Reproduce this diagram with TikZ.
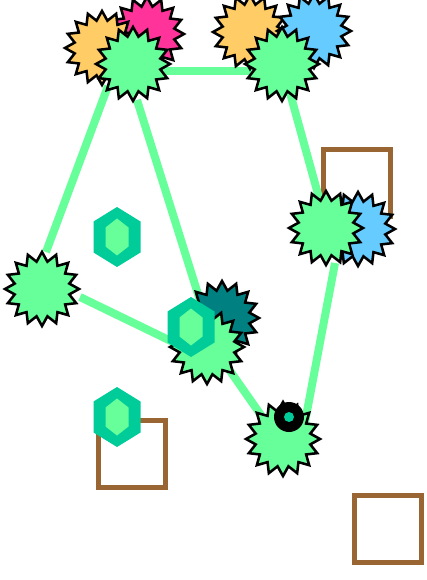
\documentclass[tikz,border=0pt]{standalone}
\usetikzlibrary{shapes.geometric}
\definecolor{cgreen}{HTML}{66FF99}
\definecolor{corange}{HTML}{FFCC66}
\definecolor{cpink}{HTML}{FF3399}
\definecolor{cblue}{HTML}{66CCFF}
\definecolor{cteal}{HTML}{008080}
\definecolor{chex}{HTML}{00CC99}
\definecolor{cbrown}{HTML}{996633}
\begin{document}
\begin{tikzpicture}[x=0.75pt,y=-0.75pt,
  burst/.style={star, star points=16, star point ratio=1.33, minimum size=55.5pt,
    inner sep=0pt, draw=black, line width=1.9pt},
  edge/.style={draw=cgreen, line width=6pt},
  box/.style={rectangle, draw=cbrown, line width=3.4pt, minimum size=50.5pt, inner sep=0pt},
  hexa/.pic={
    \fill[chex] (0,-30) -- (23.5,-15.5) -- (23.5,15.5) -- (0,30) -- (-23.5,15.5) -- (-23.5,-15.5) -- cycle;
    \fill[cgreen] (0,-18.5) -- (11.5,-9.5) -- (11.5,9.5) -- (0,18.5) -- (-11.5,9.5) -- (-11.5,-9.5) -- cycle;
  }]
\useasboundingbox (0,0) rectangle (426,580);

% brown squares
\node[box] (sq1) at (357,183) {};
\node[box] (sq2) at (132,454) {};
\node[box] (sq3) at (388,529) {};

% connector end points
\coordinate (a1) at (150,71);  \coordinate (b1) at (265,71);
\coordinate (a2) at (108,86);  \coordinate (b2) at (46,252);
\coordinate (a3) at (137,100); \coordinate (b3) at (203,310);
\coordinate (a4) at (290,93);  \coordinate (b4) at (321,205);
\coordinate (a5) at (335,263); \coordinate (b5) at (305,422);
\coordinate (a6) at (80,297);  \coordinate (b6) at (175,343);
\coordinate (a7) at (228,368); \coordinate (b7) at (263,418);

\draw[edge] (a1) -- (b1);
\draw[edge] (a2) -- (b2);
\draw[edge] (a3) -- (b3);
\draw[edge] (a4) -- (b4);
\draw[edge] (a5) -- (b5);
\draw[edge] (a6) -- (b6);
\draw[edge] (a7) -- (b7);

% stars
\node[burst, fill=cpink]   (pk)  at (147,34) {};
\node[burst, fill=corange] (or1) at (102,48) {};
\node[burst, fill=cgreen]  (g1)  at (133,64) {};
\node[burst, fill=corange] (or2) at (250,32) {};
\node[burst, fill=cblue]   (bl1) at (314,31) {};
\node[burst, fill=cgreen]  (g2)  at (282,64) {};
\node[burst, fill=cblue]   (bl2) at (358,229) {};
\node[burst, fill=cgreen]  (g3)  at (326,228) {};
\node[burst, fill=cgreen]  (g4)  at (42,289) {};
\node[burst, fill=cteal]   (tl)  at (222,318) {};
\node[burst, fill=cgreen]  (g5)  at (207,347) {};
\node[burst, fill=cgreen]  (g6)  at (283,439) {};

% hexagons
\pic (h1) at (117,237) {hexa};
\pic (h2) at (191,327) {hexa};
\pic (h3) at (117,417) {hexa};

% ring
\node[circle, fill=black, minimum size=22.5pt, inner sep=0pt] (ring) at (289,417) {};
\node[circle, fill=chex, minimum size=7.5pt, inner sep=0pt] (dot) at (289,417) {};
\end{tikzpicture}
\end{document}
